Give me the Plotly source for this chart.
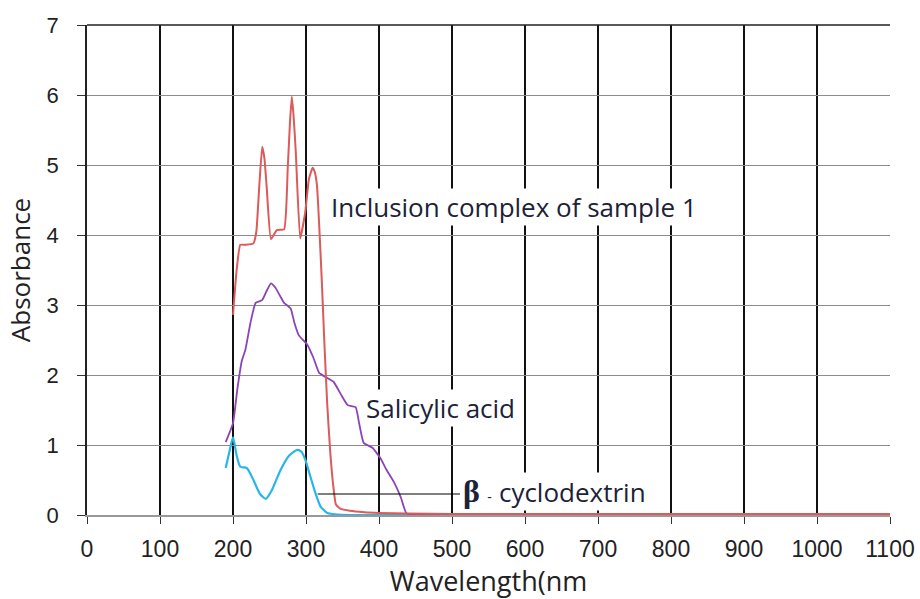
import plotly.graph_objects as go

# Inclusion complex of sample 1
complex_x = [200, 205, 210, 218, 228, 232, 236, 240, 243, 246, 252, 260, 270, 275, 278, 280.5, 283, 286, 292, 299, 304, 309, 312, 315, 321.5, 325, 329, 333, 337, 341, 347, 360, 380, 400, 438, 500, 600, 700, 800, 900, 1000, 1100]
complex_y = [2.86, 3.5, 3.86, 3.86, 3.88, 4.05, 4.7, 5.26, 5.1, 4.71, 3.94, 4.07, 4.08, 4.96, 5.6, 5.98, 5.7, 5.19, 3.95, 4.33, 4.8, 4.96, 4.9, 4.71, 3.38, 2.5, 1.6, 0.93, 0.45, 0.15, 0.09, 0.06, 0.04, 0.03, 0.02, 0.015, 0.015, 0.015, 0.015, 0.015, 0.015, 0.015]

# Salicylic acid
salicylic_x = [190, 200, 206, 212, 217, 224, 231, 240, 246, 252, 258, 265, 270, 279, 284, 290, 302, 310, 318, 327, 338, 348, 357, 368, 373, 379, 391, 402, 410, 421, 430, 438, 500, 600, 700, 800, 900, 1000, 1100]
salicylic_y = [1.04, 1.31, 1.8, 2.2, 2.36, 2.75, 3.03, 3.07, 3.2, 3.31, 3.25, 3.12, 3.03, 2.95, 2.75, 2.57, 2.43, 2.25, 2.03, 1.97, 1.9, 1.72, 1.57, 1.54, 1.3, 1.03, 0.96, 0.81, 0.65, 0.46, 0.25, 0.02, 0.01, 0.01, 0.01, 0.01, 0.01, 0.01, 0.01]

# beta-cyclodextrin
cyclodextrin_x = [190, 195, 200, 205, 210, 219, 228, 237, 245, 253, 265, 277, 288, 294, 299, 306, 313, 320, 329, 340, 360, 400, 500, 600, 700, 800, 900, 1000, 1100]
cyclodextrin_y = [0.67, 0.9, 1.11, 0.85, 0.69, 0.67, 0.5, 0.3, 0.23, 0.35, 0.64, 0.85, 0.93, 0.9, 0.79, 0.55, 0.31, 0.12, 0.03, 0.01, 0.0, 0.0, 0.0, 0.0, 0.0, 0.0, 0.0, 0.0, 0.0]

# leader line for the beta-cyclodextrin label
leader_x = [316, 511]
leader_y = [0.3, 0.3]

x_ticks = list(range(0, 1101, 100))
y_ticks = list(range(0, 8))

fig = go.Figure()
fig.add_trace(go.Scatter(x=cyclodextrin_x, y=cyclodextrin_y, mode="lines",
                         line=dict(color="#29b5e8", width=2.2, shape="spline", smoothing=0.6),
                         name="β-cyclodextrin"))
fig.add_trace(go.Scatter(x=salicylic_x, y=salicylic_y, mode="lines",
                         line=dict(color="#8a44b8", width=1.8, shape="spline", smoothing=0.4),
                         name="Salicylic acid"))
fig.add_trace(go.Scatter(x=complex_x, y=complex_y, mode="lines",
                         line=dict(color="#dc5a5a", width=2, shape="spline", smoothing=0.4),
                         name="Inclusion complex of sample 1"))
fig.add_trace(go.Scatter(x=leader_x, y=leader_y, mode="lines",
                         line=dict(color="black", width=1.2), hoverinfo="skip"))

text_font = dict(family="Open Sans, sans-serif", size=26, color="#1c2238")
fig.add_annotation(x=333, y=4.4, xref="x", yref="y", text="Inclusion complex of sample 1",
                   showarrow=False, xanchor="left", font=text_font, bgcolor="white",
                   borderpad=0)
fig.add_annotation(x=381, y=1.53, xref="x", yref="y", text="Salicylic acid",
                   showarrow=False, xanchor="left", font=text_font, bgcolor="white",
                   borderpad=0)
fig.add_annotation(x=514, y=0.33, xref="x", yref="y",
                   text="<b><span style='font-family:Liberation Serif;font-size:32px'>β</span></b>"
                        "<span style='font-size:14px'>  -  </span>cyclodextrin",
                   showarrow=False, xanchor="left", font=text_font, bgcolor="white",
                   borderpad=0)

# dark top border of the plot area
fig.add_shape(type="line", xref="paper", yref="paper", x0=0, x1=1, y0=1, y1=1,
              line=dict(color="#222222", width=1.5))

fig.update_layout(
    width=920, height=599,
    margin=dict(l=87, r=30, t=25, b=84),
    paper_bgcolor="white", plot_bgcolor="white",
    showlegend=False,
    font=dict(family="Liberation Sans, Arial, sans-serif", size=20, color="#222222"),
)
fig.update_xaxes(range=[0, 1100], tickvals=x_ticks, ticktext=[str(v) for v in x_ticks],
                 automargin=False,
                 showgrid=True, gridcolor="#111111", gridwidth=1.6,
                 ticks="outside", ticklen=7, tickcolor="#333333",
                 showline=True, linecolor="#999999", linewidth=1.5,
                 zeroline=False, ticklabelstandoff=6,
                 tickfont=dict(family="Liberation Sans Narrow, Liberation Sans, sans-serif", size=23,
                               color="#222222"),
                 title=dict(text="Wavelength(nm", font=dict(family="Open Sans, sans-serif", size=27),
                            standoff=4))
fig.update_yaxes(range=[0, 7], tickvals=y_ticks,
                 automargin=False,
                 showgrid=True, gridcolor="#8c8c8c", gridwidth=1,
                 ticks="outside", ticklen=8, tickcolor="#333333",
                 showline=True, linecolor="#222222", linewidth=1.5,
                 zeroline=False, ticklabelstandoff=14,
                 tickfont=dict(family="Liberation Sans, Arial, sans-serif", size=22, color="#222222"),
                 title=dict(text="Absorbance", font=dict(family="Open Sans, sans-serif", size=26),
                            standoff=8))

fig.write_html("out.html", config={"displayModeBar": False},
               post_script="document.body.style.margin='0px';document.body.style.overflow='hidden';")
